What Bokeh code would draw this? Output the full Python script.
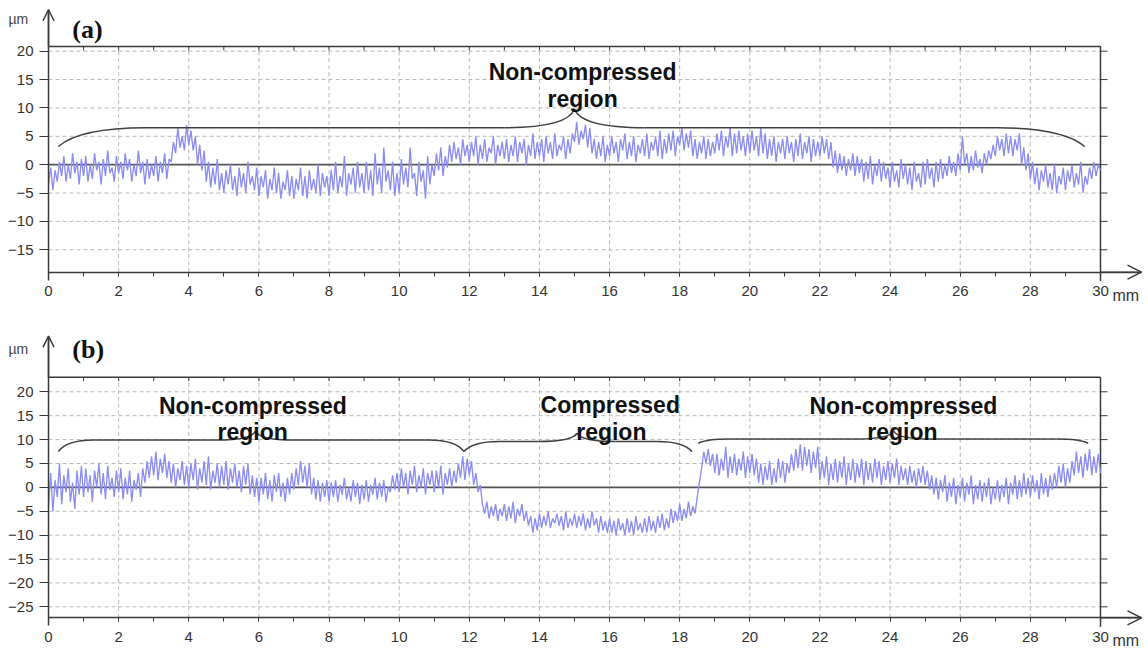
import math
from bokeh.plotting import figure
from bokeh.models import FixedTicker, Arrow, OpenHead, Label
from bokeh.layouts import column
from bokeh.embed import file_html
from bokeh.resources import INLINE
from bokeh.core.properties import value

# ---------------- data ----------------
STEP_MM = 0.0625  # sampling step of the profiles along the scan (mm)

profile_a = [
    -3.5, -0.5, -4.5, -1.0, -3.0, 0.5, -2.0, 1.5, -3.0, 0.0, -2.5, 2.0, -1.5, 0.5, -3.5, 1.0,
    -2.0, 1.5, -3.0, 0.0, -2.5, 2.0, -1.0, 0.5, -3.5, 1.0, -2.0, 2.5, -1.5, -0.5, -3.0, 1.5,
    -1.5, 0.5, -2.5, 2.0, -1.0, 1.0, -3.0, 0.0, -2.0, 2.5, -1.5, 0.5, -3.5, 1.0, -2.5, 0.0,
    -2.0, 1.5, -3.0, 0.5, -1.5, 2.0, -2.5, 1.0, 0.5, 4.0, 2.0, 6.5, 3.0, 5.0, 2.5, 7.0,
    3.5, 6.0, 2.5, 5.0, 0.0, 3.5, -1.0, 2.5, -3.0, 0.5, -4.0, -0.5, -3.5, 1.0, -4.5, -1.5,
    -5.0, -1.0, -3.5, 0.0, -4.5, -2.0, -5.5, -0.5, -4.0, -1.5, -5.0, 0.5, -3.5, -2.0, -4.5, -0.5,
    -5.5, -2.0, -4.0, -1.0, -6.0, -2.5, -4.5, -0.5, -5.0, -1.5, -6.0, -3.0, -4.5, -1.0, -5.5, -2.0,
    -6.0, -2.5, -4.5, -0.5, -5.5, -2.0, -6.0, -1.0, -4.5, -2.5, -5.0, 0.0, -5.5, -1.5, -4.0, -2.0,
    -5.5, -1.0, -4.5, 0.5, -5.0, -2.0, -4.0, 1.5, -5.5, -1.5, -3.5, -0.5, -5.0, 0.5, -4.0, -1.5,
    -5.0, 0.5, -4.5, -1.0, -5.5, 2.0, -3.5, -0.5, -5.0, 3.0, -3.0, -1.0, -4.5, 0.5, -5.5, -1.5,
    -5.0, 1.0, -3.5, -0.5, -4.0, 3.0, -2.5, -1.5, -5.5, 0.5, -3.0, -1.0, -6.0, 1.5, -3.5, 0.0,
    -2.0, 2.0, -1.0, 3.0, -2.0, 1.5, -0.5, 3.5, 0.5, 4.0, 1.0, 3.0, 0.0, 4.5, 1.5, 3.5,
    0.5, 4.0, 1.5, 5.0, 0.0, 3.5, 1.0, 4.5, 0.5, 3.0, 2.0, 5.0, 0.0, 3.5, 1.5, 4.0,
    1.0, 4.5, 0.5, 3.5, 1.5, 5.0, 0.5, 4.0, 2.0, 4.5, 0.0, 3.5, 1.5, 5.5, 1.0, 4.0,
    1.5, 4.5, 0.5, 5.0, 2.0, 4.0, 1.0, 5.5, 1.5, 3.5, 2.5, 5.0, 1.0, 4.5, 2.0, 5.5,
    4.0, 7.5, 3.5, 6.0, 4.5, 7.0, 3.0, 6.5, 2.0, 4.5, 1.0, 4.0, 1.5, 5.0, 0.5, 3.5,
    1.5, 5.0, 2.0, 4.0, 0.5, 4.5, 2.5, 5.5, 1.0, 4.0, 1.5, 5.0, 0.5, 3.5, 2.0, 4.5,
    1.5, 5.5, 1.0, 4.0, 2.5, 5.0, 1.5, 6.0, 1.0, 4.5, 2.0, 5.5, 2.5, 6.0, 1.5, 5.0,
    3.5, 6.5, 2.5, 5.5, 3.0, 6.0, 1.5, 4.5, 1.0, 4.0, 2.0, 5.0, 1.0, 4.5, 1.5, 4.0,
    2.0, 5.5, 2.5, 6.0, 1.5, 5.0, 3.0, 6.5, 1.5, 5.5, 2.0, 6.0, 2.5, 5.0, 1.5, 5.5,
    2.0, 6.0, 2.5, 5.0, 1.5, 6.5, 2.0, 5.5, 1.0, 4.5, 1.5, 5.0, 0.5, 4.0, 2.0, 4.5,
    1.0, 5.0, 2.0, 4.0, 0.5, 4.5, 1.5, 5.5, 1.0, 4.0, 2.0, 5.0, 0.5, 4.5, 1.5, 4.0,
    1.5, 5.0, 2.0, 4.5, 1.0, 4.0, -0.5, 2.5, -1.5, 2.0, -1.0, 1.5, -2.0, 1.0, -1.0, 2.0,
    -2.0, 1.5, -1.5, 1.0, -3.0, 0.5, -2.5, 1.5, -3.5, 0.0, -2.0, 1.0, -3.0, 0.5, -2.5, -0.5,
    -4.0, 0.5, -3.0, -1.0, -4.0, 1.0, -2.5, 0.0, -3.5, -0.5, -4.5, 0.5, -3.0, -1.5, -4.0, 0.5,
    -3.5, 1.0, -2.5, -0.5, -4.0, 0.5, -3.0, 1.0, -2.5, 0.0, -2.0, 1.5, -1.5, 0.5, -2.0, 2.0,
    -1.0, 5.0, 0.0, 2.0, -1.5, 1.5, -1.0, 2.5, -0.5, 1.0, -1.5, 2.0, 0.0, 2.5, 1.0, 3.5,
    1.5, 5.0, 2.5, 4.5, 1.5, 5.5, 2.0, 5.0, 1.5, 4.5, 2.5, 5.5, 0.0, 3.0, -1.0, 2.0,
    -2.5, 0.5, -3.5, -0.5, -4.5, -1.0, -3.0, 0.0, -4.0, -1.5, -4.5, 0.0, -5.0, -2.0, -3.5, -0.5,
    -4.5, -1.0, -3.0, 0.0, -4.0, -1.5, -3.5, 0.5, -5.0, -2.0, -3.5, -0.5, -2.5, 0.5, -2.0, 0.0,
    -1.0,
]

profile_b = [
    -4.0, 3.0, -5.0, 1.5, -2.0, 5.0, -3.5, 2.5, -1.0, 4.0, -3.0, 1.0, -4.5, 3.5, -1.5, 4.5,
    -2.0, 4.0, -1.0, 2.5, -3.0, 3.5, 0.0, 5.0, -1.5, 3.0, -2.5, 4.5, -0.5, 2.0, -2.0, 3.5,
    -1.0, 4.0, -2.5, 2.0, -1.5, 3.5, -3.0, 1.5, -0.5, 3.0, -2.0, 4.0, 1.0, 5.5, 2.0, 6.5,
    2.5, 7.5, 1.5, 6.0, 3.0, 7.0, 2.0, 5.5, 1.0, 5.0, 0.0, 4.0, 1.5, 5.5, 0.5, 4.5,
    0.0, 5.0, 1.5, 6.0, -0.5, 4.0, 1.0, 5.5, 0.5, 6.5, -0.5, 3.5, 1.0, 5.0, 0.0, 4.5,
    0.5, 5.5, -0.5, 4.0, 1.0, 5.0, 0.0, 3.5, -1.0, 4.5, 0.5, 5.0, -1.5, 2.5, -2.0, 2.0,
    -3.0, 2.0, -1.5, 3.0, -2.5, 1.5, -3.0, 2.5, -1.0, 3.0, -2.0, 1.0, -3.0, 2.0, -1.5, 3.0,
    -0.5, 4.0, 0.5, 5.5, 1.0, 4.5, 0.0, 5.0, -1.5, 2.0, -2.5, 1.5, -3.0, 1.0, -2.0, 1.5,
    -3.0, 1.0, -2.0, 1.5, -3.0, 0.5, -1.5, 2.0, -2.5, 0.0, -3.0, 1.5, -2.0, 1.0, -3.5, 0.5,
    -2.5, 1.5, -3.0, 0.5, -1.5, 2.0, -2.5, 1.0, -2.0, 1.5, -3.0, 0.0, -1.0, 2.5, -0.5, 3.0,
    -1.0, 4.0, 0.0, 3.0, -1.5, 3.5, 0.5, 4.5, -1.0, 2.5, 0.0, 4.0, -1.5, 3.0, 0.5, 3.5,
    -1.0, 3.5, 0.0, 4.5, -1.5, 3.0, 0.5, 4.0, 0.0, 3.5, 1.0, 5.0, 2.0, 6.5, 1.5, 6.0,
    2.5, 5.5, 0.5, 3.0, -1.0, 0.5, -3.5, -5.5, -3.0, -6.5, -4.0, -6.0, -3.5, -7.0, -4.5, -6.0,
    -3.5, -7.0, -4.0, -6.5, -3.0, -7.5, -4.5, -6.0, -3.5, -7.0, -5.0, -8.0, -6.0, -9.5, -6.5, -9.0,
    -5.5, -8.5, -6.0, -8.0, -5.0, -8.5, -6.5, -7.5, -5.5, -8.0, -6.0, -9.0, -5.0, -8.5, -6.5, -8.0,
    -5.5, -8.5, -6.0, -8.0, -5.5, -9.0, -6.5, -8.5, -5.0, -8.0, -6.5, -9.5, -6.0, -9.0, -7.0, -9.5,
    -6.5, -9.5, -7.0, -10.0, -6.5, -9.0, -7.5, -10.0, -6.5, -9.5, -7.0, -10.0, -6.0, -9.0, -7.5, -9.5,
    -6.5, -9.5, -6.0, -9.0, -7.0, -9.5, -6.0, -8.5, -5.5, -9.0, -6.5, -8.5, -4.5, -7.5, -5.0, -7.0,
    -3.5, -7.0, -4.5, -6.5, -3.0, -6.0, -4.0, -5.5, -2.0, 1.0, 4.0, 7.5, 5.0, 8.0, 4.5, 7.0,
    3.0, 7.0, 2.5, 6.0, 3.5, 8.5, 2.0, 6.5, 3.0, 7.0, 2.5, 6.0, 3.5, 7.5, 2.0, 6.5,
    3.0, 7.0, 2.5, 6.0, 1.0, 5.0, 0.5, 4.5, 1.5, 5.5, 0.5, 4.0, 1.0, 6.0, 2.0, 5.5,
    1.0, 5.0, 3.0, 7.0, 3.5, 8.0, 4.0, 9.0, 3.5, 8.5, 4.5, 8.0, 3.0, 7.5, 4.0, 8.5,
    1.5, 5.5, 2.0, 6.5, 0.5, 5.0, 1.5, 6.0, 1.0, 5.5, 2.0, 6.5, 0.5, 5.0, 1.5, 6.0,
    1.0, 5.0, 2.0, 6.0, 0.5, 5.5, 1.5, 5.0, 1.0, 6.0, 2.0, 5.5, 0.5, 4.5, 1.5, 5.5,
    1.0, 5.0, 2.0, 6.0, 0.5, 4.5, 1.5, 4.0, 0.5, 4.5, 1.0, 3.5, 0.0, 4.0, 1.0, 4.5,
    0.5, 3.5, -0.5, 2.5, -1.5, 2.0, -2.5, 1.5, -1.0, 2.5, -3.0, 1.0, -2.0, 2.0, -3.5, 0.5,
    -2.0, 2.0, -3.0, 1.0, -1.5, 2.5, -3.5, 0.5, -2.5, 1.5, -3.0, 1.0, -2.0, 2.0, -3.5, 0.0,
    -2.5, 1.5, -3.0, 0.5, -2.0, 2.0, -3.5, 1.0, -1.5, 2.5, -2.5, 1.5, -2.0, 3.0, -1.5, 2.0,
    -2.0, 2.5, -1.0, 1.5, -2.5, 3.0, -1.5, 2.0, -2.0, 2.5, -0.5, 3.0, 0.0, 4.5, 1.0, 5.0,
    0.0, 4.0, 1.0, 5.5, 2.5, 7.5, 3.0, 6.5, 2.0, 7.0, 3.5, 8.0, 2.5, 6.5, 3.0, 7.0,
    3.0,
]

x_ticks = [0, 2, 4, 6, 8, 10, 12, 14, 16, 18, 20, 22, 24, 26, 28, 30]
x_minor = list(range(0, 31))
y_ticks_a = [-15, -10, -5, 0, 5, 10, 15, 20]
y_ticks_b = [-25, -20, -15, -10, -5, 0, 5, 10, 15, 20]
x_unit, y_unit = "mm", "µm"
X_UNIT_LEFT = 30.34   # left edge of the "mm" unit text, just right of the "30" label

panel_labels = ["(a)", "(b)"]

# braces: start, end, tip position, end height, level, tip height, curve lengths
braces_a = [dict(x0=0.28, x1=29.55, xt=15.0, ye=3.2, yl=6.5, yt=9.8, le=2.5, lt=2.0)]
braces_b = [
    dict(x0=0.28, x1=11.85, xt=5.9, ye=7.5, yl=9.9, yt=11.8, le=1.0, lt=1.1),
    dict(x0=11.85, x1=18.35, xt=15.07, ye=7.5, yl=9.6, yt=11.35, le=1.0, lt=1.1),
    dict(x0=18.53, x1=29.65, xt=24.1, ye=9.2, yl=10.1, yt=11.8, le=0.9, lt=1.1),
]
notes_a = [("Non-compressed", 15.23, 16.3), ("region", 15.23, 11.6)]
notes_b = [
    ("Non-compressed", 5.83, 17.07), ("region", 5.82, 11.63),
    ("Compressed", 16.02, 17.28), ("region", 16.05, 11.69),
    ("Non-compressed", 24.38, 17.07), ("region", 24.35, 11.63),
]

# ---------------- styling ----------------
AXIS = "#3a3a3a"
GRID = "#b8b8b8"
TRACE = "#8c8cf6"
TICKTXT = "#333333"
FONT = "Liberation Sans"
X_END = 30          # end of the measured box (mm)
X_ARROW = 31.17     # tip of the x-axis arrow (mm)
X_VIEW = (-1.369, 31.369)
UNIT_DROP_PX = 23   # vertical distance of the x unit text centre below the axis line


def make_panel(profile, yticks, y_bottom, y_frame, y_arrow, y_view, ppu, height,
               braces, notes, tag, tag_y, unit_y):
    p = figure(width=1148, height=height, x_range=X_VIEW, y_range=y_view,
               output_backend="svg", toolbar_location=None,
               min_border=0, min_border_left=0, min_border_right=0,
               min_border_top=0, min_border_bottom=0)
    p.outline_line_color = None
    p.xgrid.visible = False
    p.ygrid.visible = False
    p.background_fill_color = "white"
    p.border_fill_color = "white"

    # x axis (fixed inside the drawing area)
    xa = p.xaxis[0]
    xa.fixed_location = y_bottom
    xa.bounds = (0, X_ARROW)
    xa.ticker = FixedTicker(ticks=x_ticks, minor_ticks=x_minor)
    xa.axis_line_color = AXIS
    xa.axis_line_width = 1.5
    xa.major_tick_line_color = AXIS
    xa.minor_tick_line_color = AXIS
    xa.major_tick_out = 4
    xa.major_tick_in = 0
    xa.minor_tick_out = 4
    xa.minor_tick_in = 0
    xa.major_label_standoff = 10
    xa.major_label_text_font = FONT
    xa.major_label_text_font_size = "15px"
    xa.major_label_text_color = TICKTXT

    ya = p.yaxis[0]
    ya.fixed_location = 0
    ya.bounds = (y_bottom - 8 / ppu, y_arrow)
    ya.ticker = FixedTicker(ticks=yticks, minor_ticks=[])
    ya.axis_line_color = AXIS
    ya.axis_line_width = 1.5
    ya.major_tick_line_color = AXIS
    ya.major_tick_out = 9
    ya.major_tick_in = 0
    ya.minor_tick_out = 0
    ya.minor_tick_in = 0
    ya.major_label_standoff = 6
    ya.major_label_text_font = FONT
    ya.major_label_text_font_size = "15px"
    ya.major_label_text_color = TICKTXT

    # dashed grid inside the box
    gx = [t for t in x_ticks if 0 < t < X_END]
    p.segment(x0=gx, y0=[y_bottom] * len(gx), x1=gx, y1=[y_frame] * len(gx),
              line_color=GRID, line_width=1, line_dash="4 3")
    gy = [t for t in yticks if t != 0]
    p.segment(x0=[0] * len(gy), y0=gy, x1=[X_END] * len(gy), y1=gy,
              line_color=GRID, line_width=1, line_dash="4 3")

    # zero line
    p.segment(x0=[0], y0=[0], x1=[X_END], y1=[0], line_color="#555555", line_width=1.6)

    # box: top and right edges
    p.segment(x0=[0, X_END], y0=[y_frame, y_bottom - 9 / ppu], x1=[X_END, X_END],
              y1=[y_frame, y_frame], line_color=AXIS, line_width=1.5)
    p.ray(x=x_minor[1:], y=[y_frame] * (len(x_minor) - 1), length=4, angle=-math.pi / 2,
          length_units="screen", line_color=AXIS, line_width=1)
    p.ray(x=[X_END] * len(yticks), y=yticks, length=7, angle=0,
          length_units="screen", line_color=AXIS, line_width=1)

    # arrow heads
    p.add_layout(Arrow(x_start=0, y_start=y_frame, x_end=0, y_end=y_arrow,
                       line_color=AXIS, line_width=1.5,
                       end=OpenHead(size=11, line_color=AXIS, line_width=1.5)))
    p.add_layout(Arrow(x_start=X_END, y_start=y_bottom, x_end=X_ARROW, y_end=y_bottom,
                       line_color=AXIS, line_width=1.5,
                       end=OpenHead(size=14, line_color=AXIS, line_width=1.5)))

    # profile trace
    xs = [i * STEP_MM for i in range(len(profile))]
    p.line(xs, profile, line_color=TRACE, line_width=1.35)

    # braces
    for b in braces:
        x0, x1, xt, ye, yl, yt, le, lt = (b[k] for k in ("x0", "x1", "xt", "ye", "yl", "yt", "le", "lt"))
        qx0 = [x0, xt - lt, xt + lt, x1]
        qy0 = [ye, yl, yl, ye]
        qx1 = [x0 + le, xt, xt, x1 - le]
        qy1 = [yl, yt, yt, yl]
        qcx = [x0 + 0.25 * le, xt - 0.1 * lt, xt + 0.1 * lt, x1 - 0.25 * le]
        qcy = [yl, yl, yl, yl]
        p.quadratic(x0=qx0, y0=qy0, x1=qx1, y1=qy1, cx=qcx, cy=qcy,
                    line_color="#404040", line_width=1.5)
        p.segment(x0=[x0 + le, xt + lt], y0=[yl, yl], x1=[xt - lt, x1 - le], y1=[yl, yl],
                  line_color="#404040", line_width=1.5)

    # region notes
    p.text(x=[n[1] for n in notes], y=[n[2] for n in notes], text=[n[0] for n in notes],
           text_font=value(FONT), text_font_style="bold", text_font_size="23px",
           text_align="center", text_baseline="alphabetic", text_color="#111111")

    # unit of the x axis, right of the "30" label
    p.text(x=[X_UNIT_LEFT], y=[y_bottom - UNIT_DROP_PX / ppu], text=[x_unit],
           text_font=value(FONT), text_font_size="16px", text_color=TICKTXT,
           text_align="left", text_baseline="middle")

    # panel tag, unit of the y axis
    p.add_layout(Label(x=0.68, y=tag_y, text=tag, text_font="Liberation Serif",
                       text_font_style="bold", text_font_size="26px", text_color="#111111",
                       text_baseline="alphabetic"))
    p.add_layout(Label(x=-1.14, y=unit_y, text=y_unit, text_font=FONT, text_font_size="14px",
                       text_color="#444444", text_baseline="middle"))
    return p


pa = make_panel(profile_a, y_ticks_a, -18.95, 20.83, 27.3, (-25.0, 28.935), 5.674, 306,
                braces_a, notes_a, panel_labels[0], 23.77, 25.59)
pb = make_panel(profile_b, y_ticks_b, -27.3, 23.06, 31.64, (-33.93, 37.85), 4.778, 343,
                braces_b, notes_b, panel_labels[1], 28.79, 29.0)

layout = column(pa, pb, spacing=0)
open("out.html", "w").write(file_html(layout, INLINE))
